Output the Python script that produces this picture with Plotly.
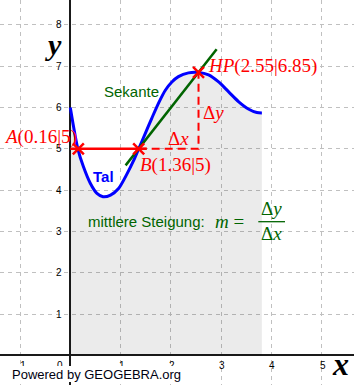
import plotly.graph_objects as go

# ---- data ----
curve_x = [0.0, 0.15, 0.26, 0.40, 0.53, 0.65, 0.80, 0.96, 1.13, 1.26, 1.36, 1.49, 1.62,
           1.76, 1.89, 2.02, 2.15, 2.35, 2.55, 2.75, 2.95, 3.15, 3.35, 3.55, 3.71, 3.81]
curve_y = [6.0, 5.0, 4.57, 4.16, 3.92, 3.84, 3.88, 4.04, 4.40, 4.72, 5.0, 5.37, 5.74,
           6.12, 6.42, 6.62, 6.75, 6.84, 6.85, 6.79, 6.62, 6.38, 6.14, 5.96, 5.88, 5.87]

secant_x = [1.10, 2.91]
secant_y = [4.60, 7.41]

point_names = ["A", "B", "HP"]
point_x = [0.16, 1.36, 2.55]
point_y = [5.0, 5.0, 6.85]

hline_x = [0.0, 1.52]
hline_y = [5.0, 5.0]

delta_x = [1.36, 2.55, 2.55]
delta_y = [5.0, 5.0, 6.85]

x_ticks = [-1, 0, 1, 2, 3, 4, 5]
y_ticks = [1, 2, 3, 4, 5, 6, 7, 8]

RED = "#ff0000"
GREEN = "#006400"
BLUE = "#0000ff"
SERIF = "Liberation Serif, Times New Roman, serif"
SANS = "Liberation Sans, Arial, sans-serif"

fig = go.Figure()

fig.add_trace(go.Scatter(x=curve_x, y=curve_y, mode="lines",
                         line=dict(color=BLUE, width=3, shape="spline", smoothing=0.8),
                         fill="tozeroy", fillcolor="rgba(0,0,0,0.08)",
                         hoverinfo="skip", showlegend=False))
fig.add_trace(go.Scatter(x=secant_x, y=secant_y, mode="lines",
                         line=dict(color=GREEN, width=2.5), showlegend=False))
fig.add_trace(go.Scatter(x=hline_x, y=hline_y, mode="lines",
                         line=dict(color=RED, width=2.5), showlegend=False))
fig.add_trace(go.Scatter(x=delta_x, y=delta_y, mode="lines",
                         line=dict(color=RED, width=2, dash="8px,5px"), showlegend=False))
fig.add_trace(go.Scatter(x=point_x, y=point_y, mode="markers",
                         marker=dict(symbol="x-thin", size=11, line=dict(color=RED, width=2.5)),
                         showlegend=False))

ann = []
# tick labels
for v in x_ticks:
    ann.append(dict(x=v, y=0, text=str(v) if v >= 0 else "-" + str(-v), showarrow=False,
                    xshift=(-10 if v == 0 else 1), yshift=-10,
                    font=dict(family=SANS, size=10, color="#000")))
for v in y_ticks:
    ann.append(dict(x=0, y=v, text=str(v), showarrow=False, xanchor="right", xshift=-6,
                    font=dict(family=SANS, size=10, color="#000")))

# axis titles
ann.append(dict(x=-0.344, y=7.52, text="<b><i>y</i></b>", showarrow=False,
                font=dict(family=SERIF, size=30, color="#000")))
ann.append(dict(x=5.364, y=-0.21, text="<b><i>x</i></b>", showarrow=False,
                font=dict(family=SERIF, size=32, color="#000")))

# point labels
ann.append(dict(x=point_x[0], y=point_y[0], text="<i>A</i>(0.16|5)", showarrow=False,
                xanchor="right", yanchor="middle", xshift=1, yshift=12,
                font=dict(family=SERIF, size=19, color=RED)))
ann.append(dict(x=point_x[1], y=point_y[1], text="<i>B</i>(1.36|5)", showarrow=False,
                xanchor="left", yanchor="middle", xshift=-1, yshift=-16,
                font=dict(family=SERIF, size=19, color=RED)))
ann.append(dict(x=point_x[2], y=point_y[2], text="<i>HP</i>(2.55|6.85)", showarrow=False,
                xanchor="left", yanchor="middle", xshift=7, yshift=6,
                font=dict(family=SERIF, size=19, color=RED)))
ann.append(dict(x=2.142, y=5.26, text="Δ<i>x</i>", showarrow=False,
                font=dict(family=SERIF, size=19, color=RED)))
ann.append(dict(x=2.838, y=5.89, text="Δ<i>y</i>", showarrow=False,
                font=dict(family=SERIF, size=19, color=RED)))

# other labels
ann.append(dict(x=1.209, y=6.40, text="Sekante", showarrow=False,
                font=dict(family=SANS, size=15, color=GREEN)))
ann.append(dict(x=0.67, y=4.34, text="<b>Tal</b>", showarrow=False,
                font=dict(family=SANS, size=15, color=BLUE)))
ann.append(dict(x=0.312, y=3.23, text="mittlere Steigung:", showarrow=False, xanchor="left",
                font=dict(family=SANS, size=15, color=GREEN)))
ann.append(dict(x=2.838, y=3.24, text="<i>m</i> =", showarrow=False, xanchor="left",
                font=dict(family=SERIF, size=19, color=GREEN)))
ann.append(dict(x=4.002, y=3.55, text="Δ<i>y</i>", showarrow=False,
                font=dict(family=SERIF, size=19, color=GREEN)))
ann.append(dict(x=4.002, y=2.95, text="Δ<i>x</i>", showarrow=False,
                font=dict(family=SERIF, size=19, color=GREEN)))

# footer (white box covers lower part of the first tick labels, like the reference)
ann.append(dict(xref="paper", yref="paper", x=12/354, y=3.5/385, xanchor="left", yanchor="bottom",
                width=171, height=16, align="left", valign="middle",
                text="Powered by GEOGEBRA.org", showarrow=False, bgcolor="#ffffff",
                borderpad=0, borderwidth=0,
                font=dict(family=SANS, size=13, color="#000010")))

shapes = [dict(type="line", x0=3.739, x1=4.270, y0=3.236, y1=3.236,
               line=dict(color=GREEN, width=1.3))]

axis_common = dict(showticklabels=False, ticks="", showgrid=True, gridcolor="#c0c0c0",
                   gridwidth=1, griddash="4px,4px", dtick=1, tick0=0, zeroline=True,
                   zerolinecolor="#1a1a1a", zerolinewidth=2, showline=False, fixedrange=True)

fig.update_layout(
    width=354, height=385, margin=dict(l=0, r=0, t=0, b=0),
    paper_bgcolor="white", plot_bgcolor="white",
    xaxis=dict(range=[-1.398, 5.642], **axis_common),
    yaxis=dict(range=[-0.719, 8.605], **axis_common),
    annotations=ann, shapes=shapes, showlegend=False,
)

fig.write_html("out.html", config={"displayModeBar": False})
